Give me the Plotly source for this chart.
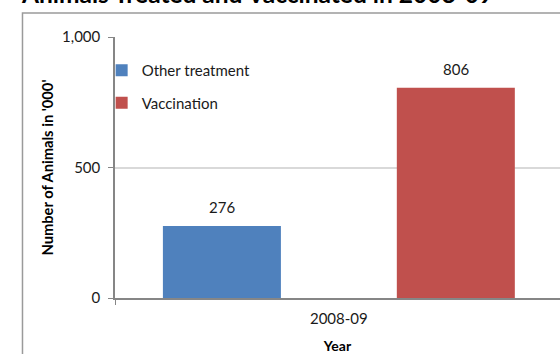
import plotly.graph_objects as go

# ---- data ----
categories = ["2008-09"]
series_names = ["Other treatment", "Vaccination"]
other_treatment = [276]
vaccination = [806]
y_ticks = [0, 500, 1000]
y_tick_labels = ["0", "500", "1,000"]

title_text = "Animals Treated and Vaccinated in 2008-09"
y_title = "Number of Animals in '000'"
x_title = "Year"

# ---- style ----
colors = ["#4F81BD", "#C0504D"]
FONT = "Lato, 'Open Sans', sans-serif"
bar_width = 0.2636
offsets = [-0.393, 0.1295]

fig = go.Figure()
for name, vals, col, off in zip(series_names, [other_treatment, vaccination], colors, offsets):
    fig.add_trace(go.Bar(
        x=categories, y=vals, name=name, marker_color=col,
        marker_line_width=0, width=bar_width, offset=off,
        legendgroup=name,
    ))
    for c, v in zip(range(len(categories)), vals):
        fig.add_annotation(
            x=c + off + bar_width / 2, y=v, text=str(v),
            xref="x", yref="y", yanchor="bottom", showarrow=False,
            yshift=8, font=dict(family=FONT, size=15, color="#1a1a1a"),
        )

# title (cropped at top of image)
fig.add_annotation(
    x=0.32, y=1.168, xref="paper", yref="paper", text="<b>" + title_text + "</b>",
    showarrow=False, xanchor="center", yanchor="middle",
    font=dict(family=FONT, size=24.5, color="#000000"),
)

# outer chart border
fig.add_shape(type="rect", xref="paper", yref="paper",
              x0=-0.2079, x1=1.3, y0=-0.6, y1=1.092,
              line=dict(color="#9a9a9a", width=1.5), fillcolor="rgba(0,0,0,0)", layer="below")

fig.update_layout(
    width=560, height=354,
    margin=dict(l=115, r=0, t=37, b=56),
    paper_bgcolor="white", plot_bgcolor="white",
    barmode="overlay",
    font=dict(family=FONT, size=15, color="#1a1a1a"),
    showlegend=True,
    legend=dict(x=-0.03, y=0.935, xanchor="left", yanchor="top",
                bgcolor="rgba(0,0,0,0)", font=dict(size=15, color="#1a1a1a"),
                traceorder="grouped", tracegroupgap=10),
)
fig.update_xaxes(
    type="category", range=[-0.5, 0.494],
    showline=True, linecolor="#868686", linewidth=1.5,
    ticks="outside", tickson="boundaries", ticklen=5, tickcolor="#868686",
    ticklabelstandoff=6, showgrid=False,
    title=dict(text="<b>" + x_title + "</b>", standoff=16, font=dict(size=14, color="#000000")),
)
fig.update_yaxes(
    range=[0, 1000], tickvals=y_ticks, ticktext=y_tick_labels,
    showline=True, linecolor="#868686", linewidth=1.5,
    ticks="outside", ticklen=5, tickcolor="#868686",
    ticklabelstandoff=5,
    showgrid=True, gridcolor="#D9D9D9", gridwidth=1.5,
    zeroline=False,
    title=dict(text="<b>" + y_title + "</b>", standoff=5, font=dict(size=14.7, color="#000000")),
)

fig.write_html(
    "out.html",
    config={"displayModeBar": False},
    post_script="document.body.style.margin='0';document.body.style.overflow='hidden';",
)
